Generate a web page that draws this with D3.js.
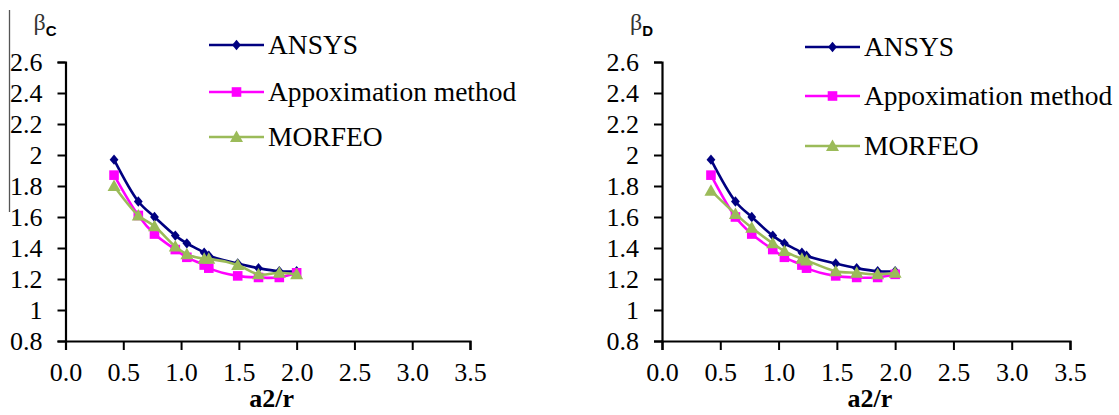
<!DOCTYPE html>
<html>
<head>
<meta charset="utf-8">
<script src="https://cdn.jsdelivr.net/npm/d3@7"></script>
<style>
  html, body { margin: 0; padding: 0; background: #fff; }
  svg { display: block; }
  .serif { font-family: "Liberation Serif", "DejaVu Serif", "Times New Roman", Times, serif; }
  .sansb { font-family: "Liberation Sans", Arial, "DejaVu Sans", sans-serif; font-weight: bold; }
</style>
</head>
<body>
<svg id="chart" width="1119" height="415"></svg>
<script>
// ---------- data ----------
const xValues = [0.42, 0.63, 0.77, 0.95, 1.05, 1.2, 1.24, 1.49, 1.67, 1.85, 2.0];

const ansysC  = [1.97, 1.70, 1.60, 1.48, 1.43, 1.37, 1.35, 1.30, 1.27, 1.25, 1.25];
const approxC = [1.87, 1.61, 1.49, 1.39, 1.34, 1.29, 1.27, 1.22, 1.21, 1.21, 1.24];
const morfeoC = [1.80, 1.61, 1.54, 1.41, 1.36, 1.33, 1.33, 1.29, 1.23, 1.24, 1.23];

const ansysD  = [1.97, 1.70, 1.60, 1.48, 1.43, 1.37, 1.35, 1.30, 1.27, 1.25, 1.25];
const approxD = [1.87, 1.60, 1.49, 1.39, 1.34, 1.29, 1.27, 1.22, 1.21, 1.21, 1.23];
const morfeoD = [1.77, 1.62, 1.53, 1.43, 1.38, 1.33, 1.32, 1.25, 1.24, 1.23, 1.24];

const seriesNames = ["ANSYS", "Appoximation method", "MORFEO"];
const xTickValues = [0, 0.5, 1.0, 1.5, 2.0, 2.5, 3.0, 3.5];
const xTickLabels = ["0.0", "0.5", "1.0", "1.5", "2.0", "2.5", "3.0", "3.5"];
const yTickValues = [0.8, 1.0, 1.2, 1.4, 1.6, 1.8, 2.0, 2.2, 2.4, 2.6];
const yTickLabels = ["0.8", "1", "1.2", "1.4", "1.6", "1.8", "2", "2.2", "2.4", "2.6"];
const xTitle = "a2/r";

// ---------- styles ----------
const colors = ["#000080", "#FF00FF", "#9BBB59"];
const markerTypes = ["diamond", "square", "triangle"];

function markerPath(type) {
  if (type === "diamond") return "M0,-5.2L4.4,0L0,5.2L-4.4,0Z";
  if (type === "square") return "M-4.8,-4.8H4.8V4.8H-4.8Z";
  return "M0,-6.5L6.5,5L-6.5,5Z";
}

const svg = d3.select("#chart");

// thin frame artefact on the left
svg.append("line").attr("x1", 9.5).attr("x2", 9.5).attr("y1", 10).attr("y2", 212)
  .attr("stroke", "#555").attr("stroke-width", 1.3);

function styleAxisText(sel) {
  sel.attr("font-family", null).attr("class", "serif")
    .style("font-size", "26px").attr("fill", "#000");
}

function drawChart(cfg) {
  const g = svg.append("g");
  const x = d3.scaleLinear().domain([0, 3.5]).range([cfg.left, cfg.right]);
  const y = d3.scaleLinear().domain([0.8, 2.6]).range([341, 62]);

  // x axis
  const xAxis = d3.axisBottom(x).tickValues(xTickValues)
    .tickFormat((d, i) => xTickLabels[i]).tickSizeOuter(0).tickSize(9).tickPadding(13);
  const gx = g.append("g").attr("transform", "translate(0,341)").call(xAxis);
  gx.attr("font-family", null);
  gx.select(".domain").attr("stroke", "#000").attr("stroke-width", 2.2);
  gx.selectAll(".tick line").attr("stroke", "#000").attr("stroke-width", 2);
  styleAxisText(gx.selectAll(".tick text"));

  // y axis
  const yAxis = d3.axisLeft(y).tickValues(yTickValues)
    .tickFormat((d, i) => yTickLabels[i]).tickSizeOuter(0).tickSize(8).tickPadding(15);
  const gy = g.append("g").attr("transform", `translate(${cfg.left},0)`).call(yAxis);
  gy.attr("font-family", null);
  gy.select(".domain").attr("stroke", "#000").attr("stroke-width", 2.2);
  gy.selectAll(".tick line").attr("stroke", "#000").attr("stroke-width", 2);
  styleAxisText(gy.selectAll(".tick text"));

  // x title
  g.append("text").attr("class", "serif").attr("x", (cfg.left + cfg.right) / 2 + 4).attr("y", 407)
    .attr("text-anchor", "middle").style("font-size", "26px").style("font-weight", "bold")
    .text(xTitle);

  // y title (beta with subscript)
  const yt = g.append("text").attr("class", "serif").attr("x", cfg.left - 32).attr("y", 30);
  yt.append("tspan").style("font-size", "24px").attr("fill", "#333").text("β");
  yt.append("tspan").attr("class", "sansb").style("font-size", "15px")
    .attr("dy", 6).text(cfg.sub);

  // series
  const line = d3.line().x((d, i) => x(xValues[i])).y(d => y(d))
    .curve(d3.curveCatmullRom.alpha(0.5));
  cfg.series.forEach((vals, s) => {
    g.append("path").datum(vals).attr("d", line).attr("fill", "none")
      .attr("stroke", colors[s]).attr("stroke-width", 2.6);
    g.append("g").selectAll("path").data(vals).join("path")
      .attr("transform", (d, i) => `translate(${x(xValues[i])},${y(d)})`)
      .attr("d", markerPath(markerTypes[s])).attr("fill", colors[s]);
  });

  // legend
  seriesNames.forEach((name, s) => {
    const ly = cfg.legendY[s];
    const lx = cfg.legendX;
    g.append("line").attr("x1", lx).attr("x2", lx + 55).attr("y1", ly).attr("y2", ly)
      .attr("stroke", colors[s]).attr("stroke-width", 2.6);
    g.append("path").attr("transform", `translate(${lx + 27.5},${ly})`)
      .attr("d", markerPath(markerTypes[s])).attr("fill", colors[s]);
    g.append("text").attr("class", "serif").attr("x", lx + 59).attr("y", ly + 9)
      .style("font-size", "27.5px").text(name);
  });
}

drawChart({
  left: 65.5, right: 470, sub: "C",
  series: [ansysC, approxC, morfeoC],
  legendX: 209, legendY: [45, 92, 137]
});
drawChart({
  left: 662, right: 1070, sub: "D",
  series: [ansysD, approxD, morfeoD],
  legendX: 805, legendY: [47, 96, 146]
});
</script>
</body>
</html>
